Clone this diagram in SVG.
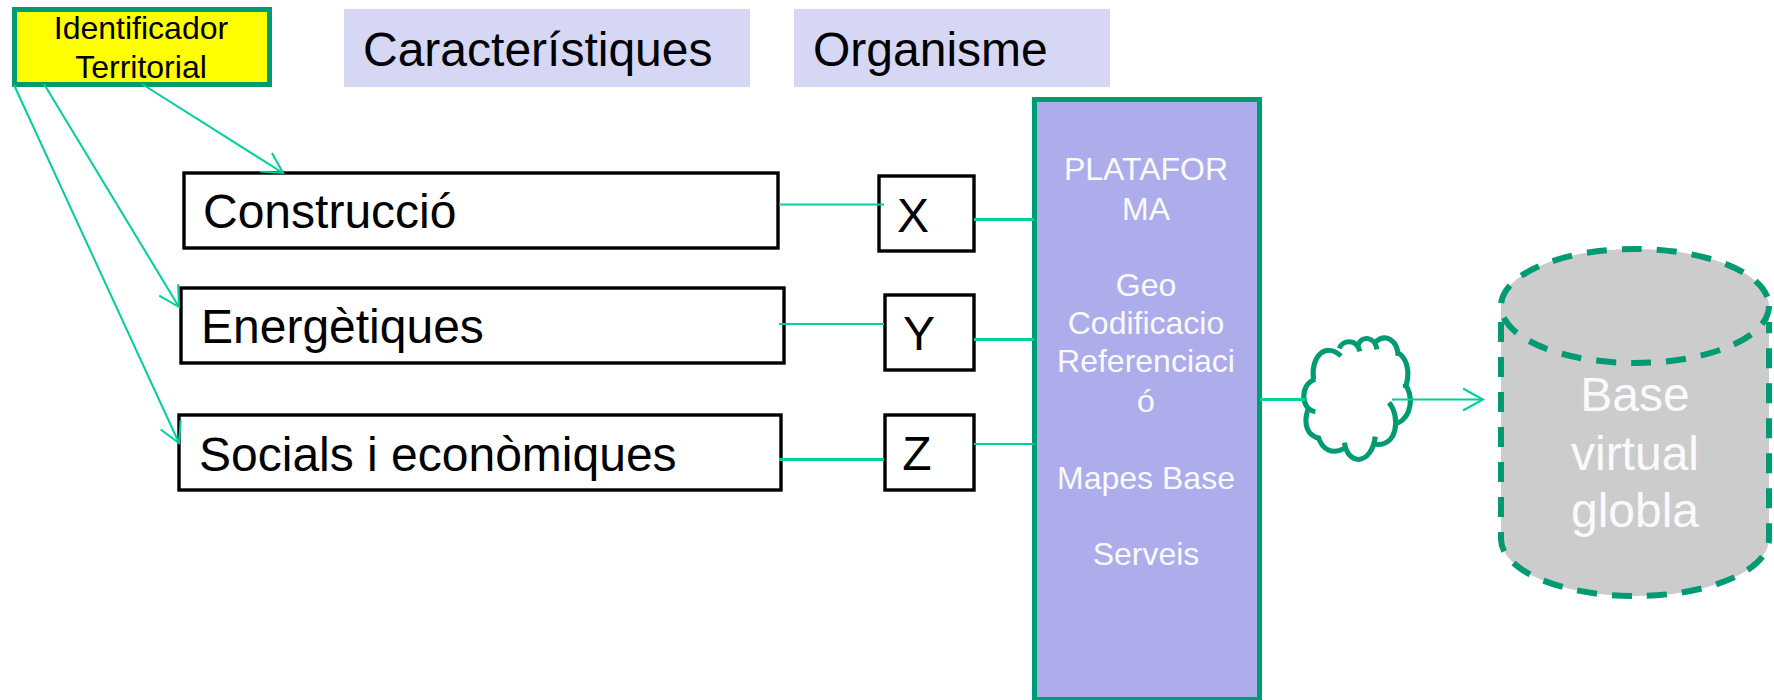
<svg xmlns="http://www.w3.org/2000/svg" width="1774" height="700" viewBox="0 0 1774 700">
<style>
text{font-family:"Liberation Sans",Arial,sans-serif;fill:#000}
.t48{font-size:48px}
.t32{font-size:32px}
.w{fill:#fafafe}
.box{fill:#fff;stroke:#000;stroke-width:3.4}
.head{fill:#d6d6f5}
.c{fill:none;stroke:#00d09c;stroke-width:2}
.c3{fill:none;stroke:#00d09c;stroke-width:3}
.cl{fill:none;stroke:#009a73;stroke-width:15;stroke-linecap:butt}
.dash{fill:none;stroke:#009a73;stroke-width:6;stroke-dasharray:20 15}
</style>
<defs>
<marker id="arr" markerUnits="userSpaceOnUse" markerWidth="26" markerHeight="26" refX="21" refY="12" orient="auto" viewBox="0 0 26 24">
<path d="M1,1 L21,12 L1,23" fill="none" stroke="#00d09c" stroke-width="2"/>
</marker>
</defs>
<rect width="1774" height="700" fill="#fff"/>
<g id="identificador">
<rect x="14.5" y="9.5" width="255" height="75" fill="#ffff00" stroke="#009a73" stroke-width="5"/>
<text class="t32" x="141" y="39" text-anchor="middle">Identificador</text>
<text class="t32" x="141" y="78" text-anchor="middle">Territorial</text>
</g>
<g id="caracteristiques">
<rect class="head" x="344" y="9" width="406" height="78"/>
<text class="t48" x="363" y="66">Característiques</text>
</g>
<g id="organisme">
<rect class="head" x="794" y="9" width="316" height="78"/>
<text class="t48" x="813" y="66">Organisme</text>
</g>
<g id="construccio">
<rect class="box" x="184" y="173" width="594" height="75"/>
<text class="t48" x="203" y="228">Construcció</text>
</g>
<g id="energetiques">
<rect class="box" x="181" y="288" width="603" height="75"/>
<text class="t48" x="201" y="343">Energètiques</text>
</g>
<g id="socials">
<rect class="box" x="179" y="415" width="602" height="75"/>
<text class="t48" x="199" y="471">Socials i econòmiques</text>
</g>
<g id="x">
<rect class="box" x="879" y="176" width="95" height="75"/>
<text class="t48" x="913" y="232" text-anchor="middle">X</text>
</g>
<g id="y">
<rect class="box" x="885" y="295" width="89" height="75"/>
<text class="t48" x="919" y="350" text-anchor="middle">Y</text>
</g>
<g id="z">
<rect class="box" x="885" y="415" width="89" height="75"/>
<text class="t48" x="917" y="470" text-anchor="middle">Z</text>
</g>
<g id="plataforma">
<rect x="1034.5" y="99.5" width="225" height="600" fill="#adadeb" stroke="#009a73" stroke-width="5"/>
<g text-anchor="middle">
<text class="t32 w" x="1146" y="180">PLATAFOR</text>
<text class="t32 w" x="1146" y="220">MA</text>
<text class="t32 w" x="1146" y="296">Geo</text>
<text class="t32 w" x="1146" y="334">Codificacio</text>
<text class="t32 w" x="1146" y="372">Referenciaci</text>
<text class="t32 w" x="1146" y="412">ó</text>
<text class="t32 w" x="1146" y="489">Mapes Base</text>
<text class="t32 w" x="1146" y="565">Serveis</text>
</g>
</g>
<g id="nuvol">
<g transform="translate(1240 220) scale(.3424 .3333)">
<path class="cl" d="M215,478 C205,410 250,365 295,408 M290,385 C300,360 340,355 350,394 M345,375 C355,345 395,350 400,388 M397,365 C425,340 460,360 462,408 M465,400 C495,425 495,470 482,505 M480,490 C510,530 500,590 460,610 M435,548 C470,590 460,685 392,672 M395,650 C385,735 315,740 305,668 M305,685 C270,705 240,690 228,650 M235,655 C195,650 185,610 198,570 M220,575 C175,570 175,490 220,478"/>
</g>
</g>
<g id="base">
<path d="M1501,306 A134,57 0 0 1 1769,306 V539 A134,57 0 0 1 1501,539 Z" fill="#ccc"/>
<ellipse class="dash" cx="1635" cy="306" rx="134" ry="57"/>
<path class="dash" d="M1501,322 V539 A134,57 0 0 0 1769,539 V322"/>
<g text-anchor="middle">
<text class="t48 w" x="1635" y="411">Base</text>
<text class="t48 w" x="1635" y="470">virtual</text>
<text class="t48 w" x="1635" y="527">globla</text>
</g>
</g>
<g id="connectors">
<path class="c" d="M142,84 L283,173" marker-end="url(#arr)"/>
<path class="c" d="M44,84 L179,307" marker-end="url(#arr)"/>
<path class="c" d="M14,85 L179,443" marker-end="url(#arr)"/>
<path class="c" d="M779,204.500 H884"/>
<path class="c" d="M779,324 H884"/>
<path class="c3" d="M779,459.500 H884"/>
<path class="c3" d="M974,219.500 H1034"/>
<path class="c3" d="M974,339.500 H1034"/>
<path class="c" d="M974,444 H1034"/>
<path class="c3" d="M1260,399.500 H1305"/>
<path class="c" d="M1392,399.500 H1483" marker-end="url(#arr)"/>
</g>
</svg>
